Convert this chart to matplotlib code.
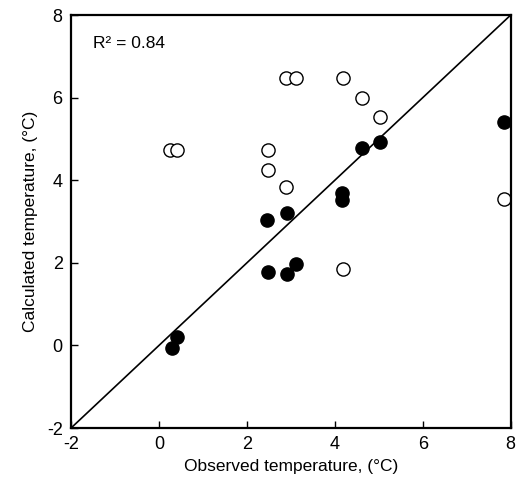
import matplotlib
matplotlib.use("Agg")
import matplotlib.pyplot as plt

plt.rcParams['font.family'] = ['Liberation Sans', 'DejaVu Sans']
plt.rcParams['axes.unicode_minus'] = False

# filled circles: observed vs calculated
obs_filled = [0.29, 0.41, 2.48, 2.91, 3.11, 2.45, 2.91, 4.16, 4.16, 4.61, 5.02, 7.86]
calc_filled = [-0.06, 0.20, 1.78, 1.73, 1.97, 3.04, 3.21, 3.69, 3.52, 4.78, 4.93, 5.40]

# open circles
obs_open = [0.25, 0.41, 2.48, 2.48, 2.90, 2.90, 3.11, 4.18, 4.18, 4.61, 5.02, 7.86]
calc_open = [4.73, 4.73, 4.73, 4.25, 3.83, 6.48, 6.48, 6.47, 1.85, 6.00, 5.53, 3.54]

ticks = [-2, 0, 2, 4, 6, 8]

fig = plt.figure(figsize=(5.16, 4.87), dpi=100)
ax = fig.add_axes([0.1376, 0.121, 0.852, 0.848])

ax.plot([-2, 8], [-2, 8], color='black', lw=1.2, zorder=1)
ax.plot(obs_open, calc_open, 'o', ms=9.5, mfc='white', mec='black', mew=1.0, zorder=2)
ax.plot(obs_filled, calc_filled, 'o', ms=9.5, mfc='black', mec='black', zorder=3)

ax.set_xlim(-2, 8)
ax.set_ylim(-2, 8)
ax.set_xticks(ticks)
ax.set_yticks(ticks)
ax.tick_params(direction='in', length=5, width=1, labelsize=13, pad=6)
for s in ax.spines.values():
    s.set_linewidth(1.6)

ax.text(-1.5, 7.32, 'R\u00b2 = 0.84', fontsize=12.5, va='center')
ax.set_xlabel('Observed temperature, (\u00b0C)', fontsize=12.5, labelpad=4)
ax.set_ylabel('Calculated temperature, (\u00b0C)', fontsize=12.5, labelpad=6)

fig.savefig('out.png', dpi=100)
